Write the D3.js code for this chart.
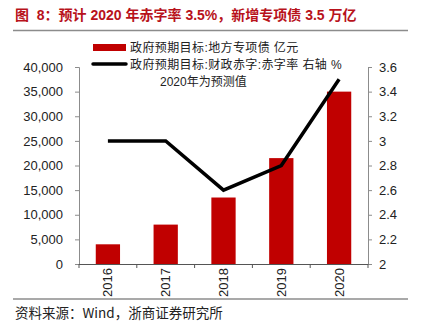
<!DOCTYPE html>
<html><head><meta charset="utf-8">
<script src="https://cdn.jsdelivr.net/npm/d3@7"></script>
<style>
html,body{margin:0;padding:0;background:#fff;}
svg{display:block;}
</style>
</head><body>
<svg id="c" width="422" height="324"></svg>
<script>
const years = ["2016","2017","2018","2019","2020"];
const specialBonds = [4000, 8000, 13500, 21500, 35000];
const deficitRate = [3.0, 3.0, 2.6, 2.8, 3.5];
const leftTicks = [0,5000,10000,15000,20000,25000,30000,35000,40000];
const rightTicks = [2,2.2,2.4,2.6,2.8,3,3.2,3.4,3.6];
const titleText = "图  8：预计 2020 年赤字率 3.5%，新增专项债 3.5 万亿";
const legendLabels = ["政府预期目标:地方专项债 亿元","政府预期目标:财政赤字:赤字率 右轴 %","2020年为预测值"];
const sourceText = "资料来源：Wind，浙商证券研究所";

const svg = d3.select("#c");
const L = 79, R = 368, T = 67, B = 264;
const cjk = "'Liberation Sans', 'Noto Sans CJK SC', sans-serif";
const red = "#C00000";

// title
svg.append("text").attr("x",15).attr("y",20).text(titleText)
  .style("white-space","pre")
  .attr("font-family","'Liberation Sans','Noto Sans CJK SC',sans-serif").attr("font-weight","bold")
  .attr("font-size",14).attr("fill","#B8121B");
svg.append("line").attr("x1",13).attr("x2",408).attr("y1",30.5).attr("y2",30.5)
  .attr("stroke","#8c8c8c").attr("stroke-width",1.5);
svg.append("line").attr("x1",13).attr("x2",408).attr("y1",299).attr("y2",299)
  .attr("stroke","#555").attr("stroke-width",1.2);
svg.append("text").attr("x",15).attr("y",318).text(sourceText)
  .attr("font-family","'Noto Sans CJK SC',sans-serif").attr("font-size",13.5).attr("fill","#222");

const x = d3.scaleBand().domain(years).range([L,R]).paddingInner(0.58).paddingOuter(0.29);
const xb = d3.scaleBand().domain(years).range([L,R]).padding(0);
const yL = d3.scaleLinear().domain([0,40000]).range([B,T]);
const yR = d3.scaleLinear().domain([2,3.6]).range([B,T]);

// bars
svg.append("g").selectAll("rect").data(specialBonds).join("rect")
  .attr("x",(d,i)=>x(years[i])).attr("width",x.bandwidth())
  .attr("y",d=>yL(d)).attr("height",d=>B-yL(d)).attr("fill",red);

// left axis
const gL = svg.append("g").attr("transform",`translate(${L},0)`)
  .call(d3.axisLeft(yL).tickValues(leftTicks).tickSize(4).tickPadding(12).tickFormat(d3.format(",")));
// right axis
const gR = svg.append("g").attr("transform",`translate(${R},0)`)
  .call(d3.axisRight(yR).tickValues(rightTicks).tickSize(4).tickPadding(7).tickFormat(d=>String(+d.toFixed(1))));
[gL,gR].forEach(g=>{
  g.select(".domain").attr("stroke","#8c8c8c");
  g.selectAll(".tick line").attr("stroke","#8c8c8c");
  g.selectAll("text").attr("font-family","'Liberation Sans',sans-serif").attr("font-size",13).attr("fill","#222");
});
// x axis
const gX = svg.append("g");
gX.append("line").attr("x1",L).attr("x2",R).attr("y1",B+0.5).attr("y2",B+0.5).attr("stroke","#555");
const bounds = years.map(d=>xb(d)).concat([R]);
gX.selectAll("line.tk").data(bounds).join("line").attr("class","tk")
  .attr("x1",d=>d).attr("x2",d=>d).attr("y1",B).attr("y2",B+4).attr("stroke","#555");
gX.selectAll("text").data(years).join("text")
  .attr("transform",d=>`translate(${x(d)+x.bandwidth()/2+4.5},${B+4}) rotate(-90)`)
  .attr("text-anchor","end").text(d=>d)
  .attr("font-family","'Liberation Sans',sans-serif").attr("font-size",13).attr("fill","#222");

// line
const line = d3.line().x((d,i)=>x(years[i])+x.bandwidth()/2).y(d=>yR(d));
svg.append("path").datum(deficitRate).attr("d",line)
  .attr("fill","none").attr("stroke","#000").attr("stroke-width",3.5);

// legend
svg.append("rect").attr("x",93).attr("y",44).attr("width",33).attr("height",7).attr("fill",red);
svg.append("line").attr("x1",93).attr("x2",126).attr("y1",64).attr("y2",64)
  .attr("stroke","#000").attr("stroke-width",3.5).attr("stroke-linecap","round");
const lg = [[130,51.5],[130,68.5],[160,86]];
legendLabels.forEach((t,i)=>{
  svg.append("text").attr("x",lg[i][0]).attr("y",lg[i][1]).text(t)
    .attr("font-family",cjk).attr("font-size",12).attr("letter-spacing",i<2?0.4:0).attr("fill","#222");
});
</script>
</body></html>
